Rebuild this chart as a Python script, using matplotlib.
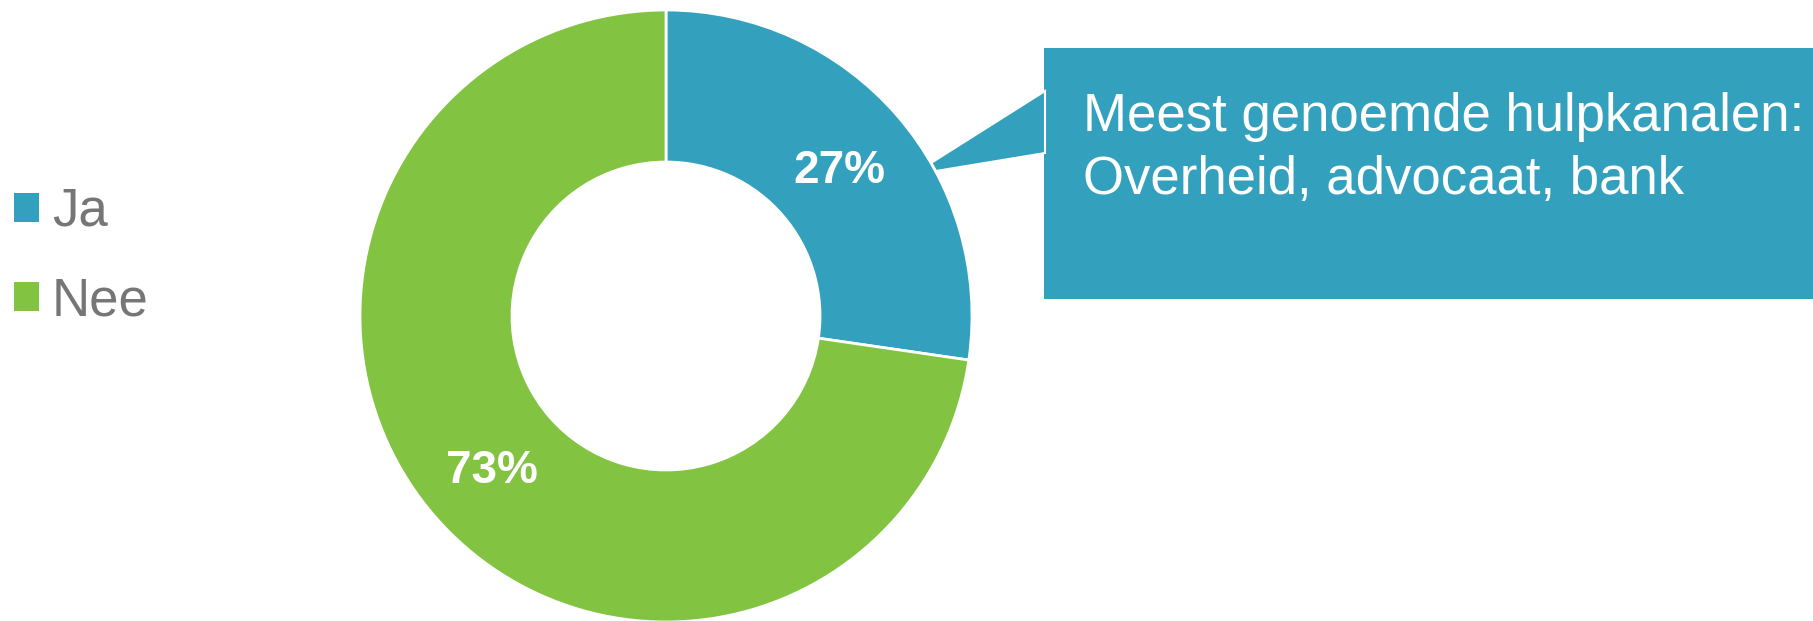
import matplotlib
matplotlib.use("Agg")
import matplotlib.pyplot as plt
from matplotlib.patches import Rectangle, Polygon

plt.rcParams['font.family'] = ['Liberation Sans', 'DejaVu Sans']

categories = ["Ja", "Nee"]
values = [27.3, 72.7]
colors = ["#33A1BD", "#82C341"]
callout_lines = ["Meest genoemde hulpkanalen:", "Overheid, advocaat, bank"]

W, H = 1813, 621
fig = plt.figure(figsize=(W / 100, H / 100), dpi=100)
ax = fig.add_axes([0, 0, 1, 1])
ax.set_xlim(0, W)
ax.set_ylim(0, H)
ax.set_aspect('equal')
ax.axis('off')

def py(y):
    return H - y

cx, cy, R = 666, py(316), 306
wedges, texts, autotexts = ax.pie(
    values, colors=colors, startangle=90, counterclock=False,
    center=(cx, cy), radius=R, frame=True,
    wedgeprops=dict(width=R - 154, edgecolor='white', linewidth=2),
    autopct='%.0f%%', pctdistance=0.75,
    textprops=dict(color='white', fontsize=33, fontweight='bold'),
)
ax.set_xlim(0, W)
ax.set_ylim(0, H)
ax.axis('off')
for w in wedges:
    w.set_zorder(3)
for t in autotexts:
    t.set_zorder(5)
    x, y = t.get_position()
    t.set_position((x, y - 5))

# callout box and pointer
ax.add_patch(Rectangle((1044, py(299)), W - 1044 + 5, 299 - 48,
                       facecolor=colors[0], edgecolor='none', zorder=2))
ax.add_patch(Polygon([(1045, py(91)), (1045, py(153)), (936, py(171)), (931, py(163))],
                     closed=True, facecolor=colors[0], edgecolor='white',
                     linewidth=1.5, zorder=2))
ax.text(1083, py(131), callout_lines[0], color='white', fontsize=38,
        va='baseline', ha='left', zorder=6)
ax.text(1083, py(194), callout_lines[1], color='white', fontsize=38,
        va='baseline', ha='left', zorder=6)

leg = ax.legend(wedges, categories, loc='upper left',
                bbox_to_anchor=(14 / W, 1 - 187 / H), bbox_transform=fig.transFigure,
                frameon=False, fontsize=38, borderpad=0, borderaxespad=0,
                handlelength=0.47, handleheight=0.47, handletextpad=0.25,
                labelspacing=0.75)
for t in leg.get_texts():
    t.set_color('#767676')
for h in leg.legend_handles:
    h.set_edgecolor('none')
    h.set_linewidth(0)

fig.savefig('out.png', dpi=100)
